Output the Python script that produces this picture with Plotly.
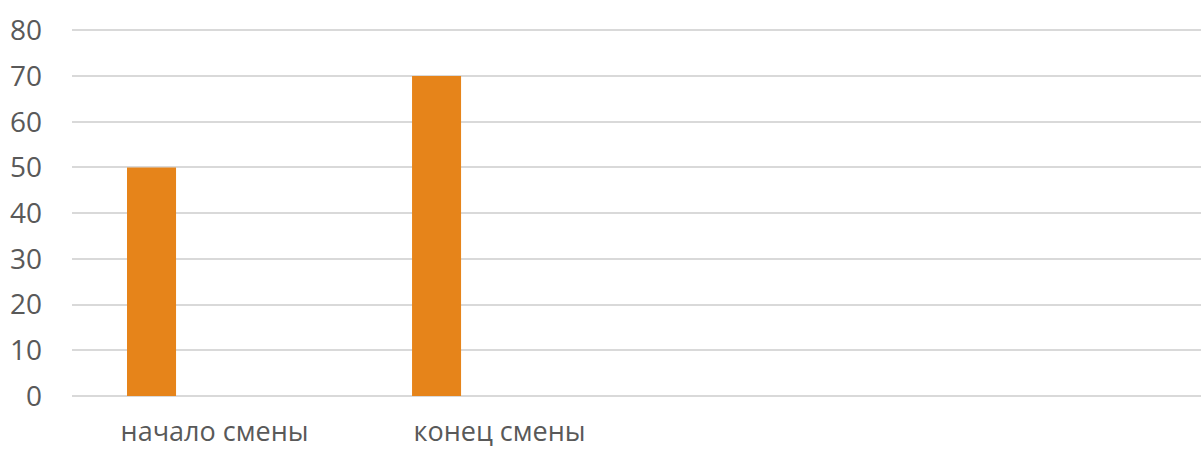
import plotly.graph_objects as go

categories = ["начало смены", "конец смены"]
values = [50, 70]
y_ticks = [0, 10, 20, 30, 40, 50, 60, 70, 80]

x_pos = list(range(len(categories)))

fig = go.Figure()
fig.add_trace(go.Bar(
    x=x_pos, y=values,
    marker=dict(color="#E6841A", line=dict(width=0)),
    width=0.172, offset=-0.307,
    hoverinfo="y",
))

font_family = "Open Sans, Noto Sans, DejaVu Sans, sans-serif"
fig.update_layout(
    width=1201, height=449,
    margin=dict(l=72, r=0, t=28, b=53),
    paper_bgcolor="white", plot_bgcolor="white",
    showlegend=False,
    font=dict(family=font_family, size=27, color="#595959"),
    xaxis=dict(
        range=[-0.5, 3.461],
        tickvals=x_pos, ticktext=categories,
        showgrid=False, zeroline=False,
        showline=False, ticks="",
        ticklabelstandoff=17,
        tickfont=dict(size=27, color="#595959"),
        fixedrange=True, automargin=False,
    ),
    yaxis=dict(
        range=[0, 80.5],
        tickvals=y_ticks,
        showgrid=True, gridcolor="#D9D9D9", gridwidth=1.5,
        zeroline=True, zerolinecolor="#D9D9D9", zerolinewidth=1.5,
        showline=False, ticks="",
        ticklabelstandoff=29,
        tickfont=dict(size=28, color="#595959"),
        fixedrange=True, automargin=False,
    ),
)

fig.write_html(
    "out.html",
    config={"displayModeBar": False},
    post_script="document.body.style.margin='0';document.body.style.overflow='hidden';",
)
